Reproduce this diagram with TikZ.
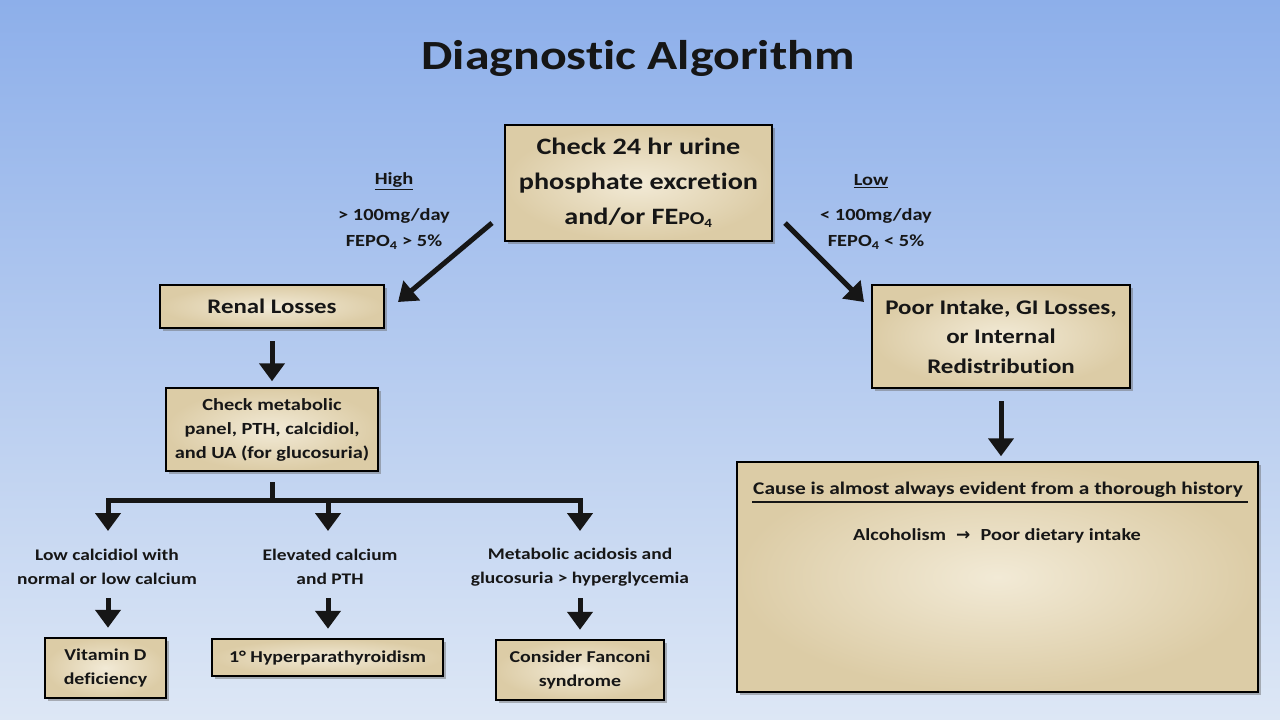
\documentclass[tikz,border=0pt]{standalone}
\usepackage{fontspec}
\setmainfont{Carlito}[FakeStretch=1.2, Ligatures=NoCommon]
\newfontfamily\arrowfont{DejaVu Sans}
\usetikzlibrary{arrows.meta,shadows}
\definecolor{bgtop}{HTML}{8DAFEA}
\definecolor{bgbot}{HTML}{DDE7F5}
\definecolor{boxin}{HTML}{F2EAD6}
\definecolor{boxout}{HTML}{DCCCA6}
\definecolor{ink}{HTML}{161616}
\tikzset{
  box/.style={draw=black, line width=2.5pt, shading=radial, inner color=boxin, outer color=boxout,
    align=center, inner sep=0pt, text=ink, font=\bfseries,
    drop shadow={shadow xshift=3pt, shadow yshift=-3pt, opacity=0.45, fill=black!60}},
  lbl/.style={align=center, inner sep=0pt, text=ink, font=\bfseries},
  bigarrow/.style={line width=5pt, -{Triangle[width=25pt,length=18pt]}, draw=ink},
  flow/.style={line width=5pt, draw=ink},
}
\begin{document}
\begin{tikzpicture}[x=1pt,y=-1pt]
\shade[top color=bgtop, bottom color=bgbot] (0,0) rectangle (1280,720);
\useasboundingbox (0,0) rectangle (1280,720);

\node[lbl, font=\bfseries\fontsize{41.5}{48}\selectfont] (title) at (638,58) {Diagnostic Algorithm};

\node[box, minimum width=267pt, minimum height=116pt, font=\bfseries\fontsize{23.5}{35}\selectfont] (top) at (638.5,183)
  {Check 24 hr urine\\ phosphate excretion\\ and/or FE{\fontsize{18}{18}\selectfont PO\textsubscript{4}}};

\node[lbl, font=\bfseries\fontsize{17}{26}\selectfont] (high) at (394,181) {\underline{High}};
\node[lbl, font=\bfseries\fontsize{17}{26}\selectfont] (highv) at (394,229) {> 100mg/day\\ FEPO\textsubscript{4} > 5\%};
\node[lbl, font=\bfseries\fontsize{17}{26}\selectfont] (low) at (871,181) {\underline{Low}};
\node[lbl, font=\bfseries\fontsize{17}{26}\selectfont] (lowv) at (876,229) {< 100mg/day\\ FEPO\textsubscript{4} < 5\%};

\node[box, minimum width=224pt, minimum height=43pt, font=\bfseries\fontsize{20.7}{26}\selectfont] (renal) at (272,306.5) {Renal Losses};
\node[box, minimum width=212pt, minimum height=83pt, font=\bfseries\fontsize{17}{24}\selectfont] (check) at (272,429.5)
  {Check metabolic\\ panel, PTH, calcidiol,\\ and UA (for glucosuria)};

\node[box, minimum width=258pt, minimum height=103pt, font=\bfseries\fontsize{20.8}{29.5}\selectfont] (poor) at (1001,336.5)
  {Poor Intake, GI Losses,\\ or Internal\\ Redistribution};
\node[box, minimum width=521pt, minimum height=230pt] (cause) at (997.5,577) {};
\node[lbl, font=\bfseries\fontsize{17.8}{24}\selectfont] (causeh) at (998,490) {Cause is almost always evident from a thorough history};
\coordinate (rulel) at (752,502);
\coordinate (ruler) at (1248,502);
\draw[line width=2pt, ink] (rulel) -- (ruler);
\node[lbl, font=\bfseries\fontsize{16.9}{24}\selectfont] (alc) at (997,536) {Alcoholism\hspace{0.6em}{\arrowfont\bfseries\fontsize{17}{17}\selectfont →}\hspace{0.6em}Poor dietary intake};

% branch labels
\node[lbl, font=\bfseries\fontsize{16.2}{24}\selectfont] (l1) at (107,567) {Low calcidiol with\\ normal or low calcium};
\node[lbl, font=\bfseries\fontsize{16.2}{24}\selectfont] (l2) at (330,567) {Elevated calcium\\ and PTH};
\node[lbl, font=\bfseries\fontsize{16.2}{24}\selectfont] (l3) at (580,567) {Metabolic acidosis and\\ glucosuria > hyperglycemia};

\node[box, minimum width=121pt, minimum height=60pt, font=\bfseries\fontsize{16.6}{24}\selectfont] (vitd) at (105.5,668) {Vitamin D\\ deficiency};
\node[box, minimum width=231pt, minimum height=37pt, font=\bfseries\fontsize{16.6}{24}\selectfont] (hyper) at (327.5,657.5) {1° Hyperparathyroidism};
\node[box, minimum width=168pt, minimum height=60pt, font=\bfseries\fontsize{16.6}{24}\selectfont] (fanc) at (580,670) {Consider Fanconi\\ syndrome};

% connectors
\coordinate (a1s) at (492,223);
\coordinate (a1e) at (398,302);
\draw[bigarrow] (a1s) -- (a1e);
\coordinate (a2s) at (785,223);
\coordinate (a2e) at (864,302);
\draw[bigarrow] (a2s) -- (a2e);
\draw[bigarrow] (renal.south) ++(0,12) -- ++(0,40);
\draw[bigarrow] (poor.south) ++(0,12) -- ++(0,55);

\coordinate (j) at (272,500);
\coordinate (jl) at (108,500);
\coordinate (jm) at (328,500);
\coordinate (jr) at (580,500);
\draw[flow] (check.south) ++(0,10) -- (j);
\draw[flow, line cap=rect] (jl) -- (jr);
\draw[bigarrow] (jl) -- ++(0,31);
\draw[bigarrow] (jm) -- ++(0,31);
\draw[bigarrow] (jr) -- ++(0,31);

\coordinate (b1) at (108,598);
\coordinate (b2) at (328,598);
\coordinate (b3) at (580,598);
\draw[bigarrow] (b1) -- ([yshift=9pt]b1 |- vitd.north);
\draw[bigarrow] (b2) -- ([yshift=9pt]b2 |- hyper.north);
\draw[bigarrow] (b3) -- ([yshift=9pt]b3 |- fanc.north);
\end{tikzpicture}
\end{document}
